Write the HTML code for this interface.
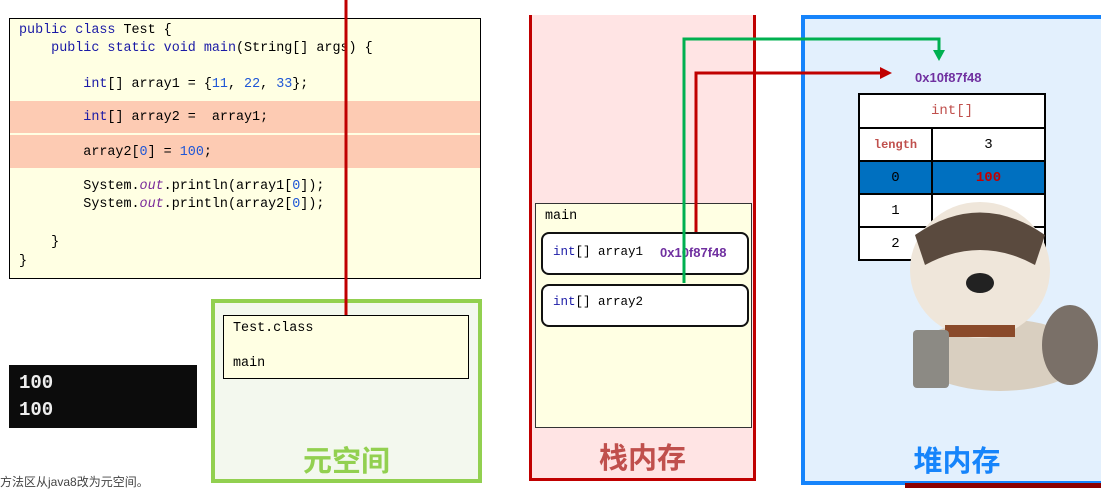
<!DOCTYPE html>
<html><head><meta charset="utf-8"><style>
body{margin:0;width:1101px;height:488px;position:relative;background:#fff;overflow:hidden;font-family:"Liberation Mono","Noto Sans CJK SC",monospace}
.a{position:absolute}
.code{font-size:13.4px;color:#000;white-space:pre;line-height:16px}
.k{color:#1a1aa6}.n{color:#1e56d6}.o{color:#7a2a9a;font-style:italic}
.cn{font-family:"Liberation Sans","Noto Sans CJK SC",sans-serif}
td{border:2px solid #000;text-align:center;font-size:14px;height:31px;padding:0}
</style></head><body>
<!-- code box -->
<div class="a" style="left:9px;top:18px;width:470px;height:259px;border:1px solid #000;background:#ffffe3"></div>
<div class="a" style="left:10px;top:101px;width:470px;height:32px;background:#fdcbb3"></div>
<div class="a" style="left:10px;top:135px;width:470px;height:33px;background:#fdcbb3"></div>
<div class="a code" style="left:19px;top:23px"><span class="k">public class</span> Test {</div>
<div class="a code" style="left:19px;top:41px">    <span class="k">public static void</span> <span class="k">main</span>(String[] args) {</div>
<div class="a code" style="left:19px;top:77px">        <span class="k">int</span>[] array1 = {<span class="n">11</span>, <span class="n">22</span>, <span class="n">33</span>};</div>
<div class="a code" style="left:19px;top:110px">        <span class="k">int</span>[] array2 =  array1;</div>
<div class="a code" style="left:19px;top:145px">        array2[<span class="n">0</span>] = <span class="n">100</span>;</div>
<div class="a code" style="left:19px;top:179px">        System.<span class="o">out</span>.println(array1[<span class="n">0</span>]);</div>
<div class="a code" style="left:19px;top:197px">        System.<span class="o">out</span>.println(array2[<span class="n">0</span>]);</div>
<div class="a code" style="left:19px;top:235px">    }</div>
<div class="a code" style="left:19px;top:254px">}</div>

<!-- console -->
<div class="a" style="left:9px;top:365px;width:188px;height:63px;background:#0c0c0c"></div>
<div class="a" style="left:19px;top:370px;color:#eee;font-size:19px;line-height:27px;font-weight:bold">100<br>100</div>
<div class="a cn" style="left:0;top:473px;font-size:12px;color:#444">方法区从java8改为元空间。</div>

<!-- metaspace -->
<div class="a" style="left:211px;top:299px;width:263px;height:176px;border:4px solid #92d050;background:#f3f8ee"></div>
<div class="a" style="left:223px;top:315px;width:244px;height:62px;border:1px solid #000;background:#ffffe3"></div>
<div class="a code" style="left:233px;top:321px">Test.class</div>
<div class="a code" style="left:233px;top:356px">main</div>
<div class="a cn" style="left:211px;top:438px;width:271px;text-align:center;font-size:29px;font-weight:bold;color:#92d050">元空间</div>

<!-- stack -->
<div class="a" style="left:529px;top:15px;width:221px;height:463px;border:3px solid #c00000;border-top:none;background:#ffe4e4"></div>
<div class="a" style="left:535px;top:203px;width:215px;height:223px;border:1px solid #333;background:#ffffe3"></div>
<div class="a code" style="left:545px;top:209px">main</div>
<div class="a" style="left:541px;top:232px;width:204px;height:39px;border:2px solid #111;border-radius:8px;background:#fff"></div>
<div class="a" style="left:541px;top:284px;width:204px;height:39px;border:2px solid #111;border-radius:8px;background:#fff"></div>
<div class="a code" style="left:553px;top:244px;font-size:12.5px"><span class="k">int</span>[] array1</div>
<div class="a code" style="left:553px;top:294px;font-size:12.5px"><span class="k">int</span>[] array2</div>
<div class="a cn" style="left:660px;top:245px;font-size:13px;font-weight:bold;color:#7030a0">0x10f87f48</div>
<div class="a cn" style="left:529px;top:435px;width:227px;text-align:center;font-size:29px;font-weight:bold;color:#c0504d">栈内存</div>

<!-- heap -->
<div class="a" style="left:801px;top:15px;width:300px;height:462px;border:4px solid #1684fb;border-right:none;background:#e3f0fd"></div>
<div class="a cn" style="left:915px;top:70px;font-size:13px;font-weight:bold;color:#7030a0">0x10f87f48</div>
<table class="a" style="left:858px;top:93px;width:188px;border-collapse:collapse;background:#fff">
<tr><td colspan="2" style="color:#c0504d;height:32px">int[]</td></tr>
<tr><td style="width:71px;color:#c0504d;font-weight:bold;font-size:12px">length</td><td>3</td></tr>
<tr style="background:#0070c0"><td>0</td><td style="color:#c00000;font-weight:bold">100</td></tr>
<tr><td>1</td><td></td></tr>
<tr><td>2</td><td></td></tr>
</table>
<div class="a cn" style="left:801px;top:438px;width:312px;text-align:center;font-size:29px;font-weight:bold;color:#1684fb">堆内存</div>
<div class="a" style="left:905px;top:483px;width:196px;height:5px;background:#8b0000"></div>

<!-- dog approximation -->
<svg class="a" style="left:895px;top:195px" width="206" height="200">
<ellipse cx="105" cy="160" rx="85" ry="36" fill="#d9cfc0"/>
<ellipse cx="175" cy="150" rx="28" ry="40" fill="#7a7068"/>
<ellipse cx="85" cy="75" rx="70" ry="68" fill="#efe6da"/>
<path d="M20 40 Q85 -5 150 40 L140 70 Q85 40 30 70Z" fill="#5a4a3e"/>
<ellipse cx="85" cy="88" rx="14" ry="10" fill="#222"/>
<rect x="50" y="130" width="70" height="12" fill="#8a4a2a"/>
<rect x="18" y="135" width="36" height="58" rx="4" fill="#8c8a84"/>
</svg>

<!-- connectors -->
<svg class="a" style="left:0;top:0" width="1101" height="488">
<line x1="346" y1="0" x2="346" y2="315" stroke="#c00000" stroke-width="3"/>
<polyline points="684,283 684,39 939,39 939,52" fill="none" stroke="#00b050" stroke-width="3"/>
<polygon points="933,50 945,50 939,61" fill="#00b050"/>
<polyline points="696,232 696,73 882,73" fill="none" stroke="#c00000" stroke-width="3"/>
<polygon points="880,67 892,73 880,79" fill="#c00000"/>
</svg>
</body></html>
